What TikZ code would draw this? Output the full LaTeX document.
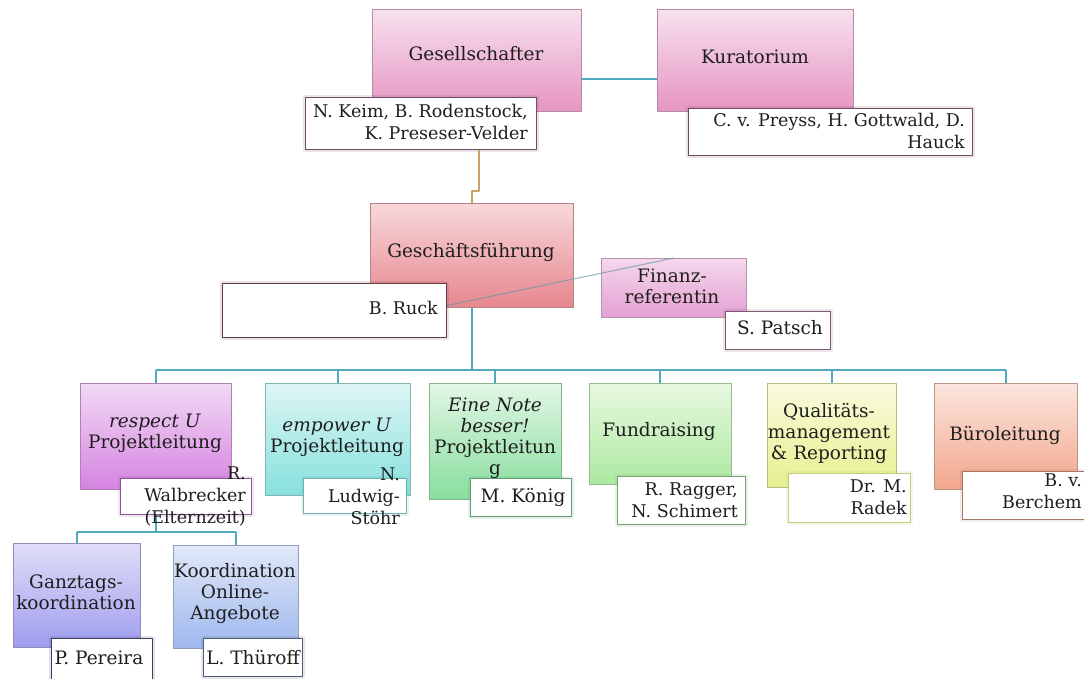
\documentclass[tikz,border=0pt]{standalone}
\usepackage{fontspec}
\setmainfont{DejaVu Serif}
\usetikzlibrary{positioning}
\definecolor{txt}{HTML}{1E1E1E}
\definecolor{linkc}{HTML}{4FA9BF}
\definecolor{tanc}{HTML}{C9A267}
\definecolor{gestop}{HTML}{F7E1EE}\definecolor{gesbot}{HTML}{E594C2}
\definecolor{gftop}{HTML}{F8D8DA}\definecolor{gfbot}{HTML}{E7868E}
\definecolor{fintop}{HTML}{F5D7EC}\definecolor{finbot}{HTML}{E3A0D2}
\definecolor{resptop}{HTML}{F2DAF5}\definecolor{respbot}{HTML}{D583E0}
\definecolor{emptop}{HTML}{DDF6F5}\definecolor{empbot}{HTML}{86E0DD}
\definecolor{notetop}{HTML}{E1F6E4}\definecolor{notebot}{HTML}{88DE9E}
\definecolor{fundtop}{HTML}{E8F8E0}\definecolor{fundbot}{HTML}{ACE9A0}
\definecolor{qualtop}{HTML}{F9FBDD}\definecolor{qualbot}{HTML}{E6F08E}
\definecolor{buetop}{HTML}{FBE6DE}\definecolor{buebot}{HTML}{F2A68C}
\definecolor{ganztop}{HTML}{E0DEF8}\definecolor{ganzbot}{HTML}{9E9CEE}
\definecolor{koordtop}{HTML}{E0E8F8}\definecolor{koordbot}{HTML}{A0B8EE}
\tikzset{
  box/.style={draw=#1bot!55!gray, line width=0.8pt, top color=#1top, bottom color=#1bot,
    anchor=north west, inner sep=0pt},
  namebox/.style={draw=#1, line width=1pt, fill=white, anchor=north west, inner sep=0pt,
    preaction={draw=#1, draw opacity=0.15, line width=5pt}},
  lbl/.style={font=\fontsize{18.5}{21}\selectfont, text=txt, inner sep=0pt, align=center},
  nlbl/.style={font=\fontsize{17.5}{22}\selectfont, text=txt, inner sep=0pt, align=right, anchor=east},
  link/.style={draw=linkc, line width=2pt},
  finlink/.style={draw=linkc!60!gray, line width=1pt, opacity=0.7},
}
\begin{document}
\begin{tikzpicture}[x=1pt,y=-1pt,line join=round]
	\useasboundingbox (0,0) rectangle (1084,678);
	\clip (0,0) rectangle (1084,678);
	\coordinate (bus) at (0,370);
	\coordinate (subbus) at (0,532);
	% main boxes
	\node[box=ges, minimum width=209pt, minimum height=102pt] (gesell) at (372,9) {};
	\node[box=ges, minimum width=196pt, minimum height=102pt] (kurat) at (657,9) {};
	\node[box=gf, minimum width=203pt, minimum height=104pt] (gf) at (370,203) {};
	\node[box=fin, minimum width=145pt, minimum height=59pt] (fin) at (601,258) {};
	\node[box=resp, minimum width=151pt, minimum height=106pt] (resp) at (80,383) {};
	\node[box=emp, minimum width=145pt, minimum height=112pt] (empow) at (265,383) {};
	\node[box=note, minimum width=132pt, minimum height=116pt] (note) at (429,383) {};
	\node[box=fund, minimum width=142pt, minimum height=101pt] (fund) at (589,383) {};
	\node[box=qual, minimum width=129pt, minimum height=104pt] (qual) at (767,383) {};
	\node[box=bue, minimum width=143pt, minimum height=106pt] (buero) at (934,383) {};
	\node[box=ganz, minimum width=127pt, minimum height=104pt] (ganz) at (13,543) {};
	\node[box=koord, minimum width=125pt, minimum height=103pt] (koord) at (173,545) {};
	% connectors
	\draw[link] ([yshift=-19pt]gesell.east) -- ([yshift=-19pt]kurat.west);
	\draw[link] (gf.south) -- (gf.south |- bus);
	\draw[link] (resp.north |- bus) -- (buero.north |- bus);
	\foreach \b in {resp,empow,note,fund,qual,buero}
		\draw[link] (\b.north |- bus) -- (\b.north);
	\draw[link] (resp.south |- 0,514) -- (resp.south |- subbus);
	\draw[link] (ganz.north |- subbus) -- (koord.north |- subbus);
	\foreach \b in {ganz,koord}
		\draw[link] (\b.north |- subbus) -- (\b.north);
	% name boxes
	\node[namebox=gesbot!50!black, minimum width=231pt, minimum height=52pt] (gesellN) at (305,97) {};
	\node[namebox=gesbot!50!black, minimum width=284pt, minimum height=47pt] (kuratN) at (688,108) {};
	\node[namebox=gfbot!45!black, minimum width=224pt, minimum height=54pt] (ruck) at (222,283) {};
	\node[namebox=finbot!55!black, minimum width=105pt, minimum height=38pt] (patsch) at (725,311) {};
	\node[namebox=respbot!65!black, minimum width=131pt, minimum height=36pt] (walb) at (120,478) {};
	\node[namebox=empbot!80!black, minimum width=103pt, minimum height=35pt] (ludwig) at (303,478) {};
	\node[namebox=notebot!70!black, minimum width=101pt, minimum height=38pt] (koenig) at (470,478) {};
	\node[namebox=fundbot!70!black, minimum width=128pt, minimum height=48pt] (ragger) at (617,476) {};
	\node[namebox=qualbot!85!black, minimum width=122pt, minimum height=49pt] (radek) at (788,473) {};
	\node[namebox=buebot!70!black, minimum width=130pt, minimum height=48pt] (berchem) at (962,471) {};
	\node[namebox=ganzbot!40!black, minimum width=101pt, minimum height=50pt] (pereira) at (51,638) {};
	\node[namebox=koordbot!50!black, minimum width=99pt, minimum height=38pt] (thueroff) at (203,638) {};
	% connectors over boxes
	\draw[tanc, line width=1.5pt] ([xshift=58pt]gesellN.south) -- ++(0,41) -| (gf.north);
	\draw[finlink] ([yshift=5pt]ruck.east) -- (fin.north);
	% texts
	\node[lbl] (gesellT) at (476,54) {Gesellschafter};
	\node[lbl] (kuratT) at (755,57) {Kuratorium};
	\node[nlbl] (gesellNT) at (528,122) {N. Keim, B. Rodenstock,\\K. Preseser-Velder};
	\node[nlbl] (kuratNT) at (965,131) {C. v. Preyss, H. Gottwald, D.\\Hauck};
	\node[lbl] (gfT) at (471,252) {Geschäftsführung};
	\node[nlbl] (ruckT) at (438,308) {B. Ruck};
	\node[lbl] (finT) at (672,286) {Finanz-\\referentin};
	\node[lbl] (patschT) at (780,328) {S. Patsch};
	\node[lbl] (respT) at (155,433) {\textit{respect U}\\Projektleitung};
	\node[nlbl] (walbT) at (246,496) {R.\\Walbrecker\\(Elternzeit)};
	\node[lbl] (empowT) at (337,437) {\textit{empower U}\\Projektleitung};
	\node[nlbl] (ludwigT) at (400,496) {N.\\Ludwig-\\Stöhr};
	\node[lbl] (noteT) at (495,438) {\textit{Eine Note}\\\textit{besser!}\\Projektleitun\\g};
	\node[lbl] (koenigT) at (523,497) {M. König};
	\node[lbl] (fundT) at (659,432) {Fundraising};
	\node[nlbl] (raggerT) at (738,500) {R. Ragger,\\N. Schimert};
	\node[lbl] (qualT) at (829,433) {Qualitäts-\\management\\\& Reporting};
	\node[nlbl] (radekT) at (907,497) {Dr. M.\\Radek};
	\node[lbl] (bueroT) at (1005,435) {Büroleitung};
	\node[nlbl] (berchemT) at (1082,491) {B. v.\\Berchem};
	\node[lbl] (ganzT) at (76,592) {Ganztags-\\koordination};
	\node[lbl] (koordT) at (235,594) {Koordination\\Online-\\Angebote};
	\node[lbl] (pereiraT) at (99,658) {P. Pereira};
	\node[lbl] (thueroffT) at (253,658) {L. Thüroff};
\end{tikzpicture}
\end{document}
